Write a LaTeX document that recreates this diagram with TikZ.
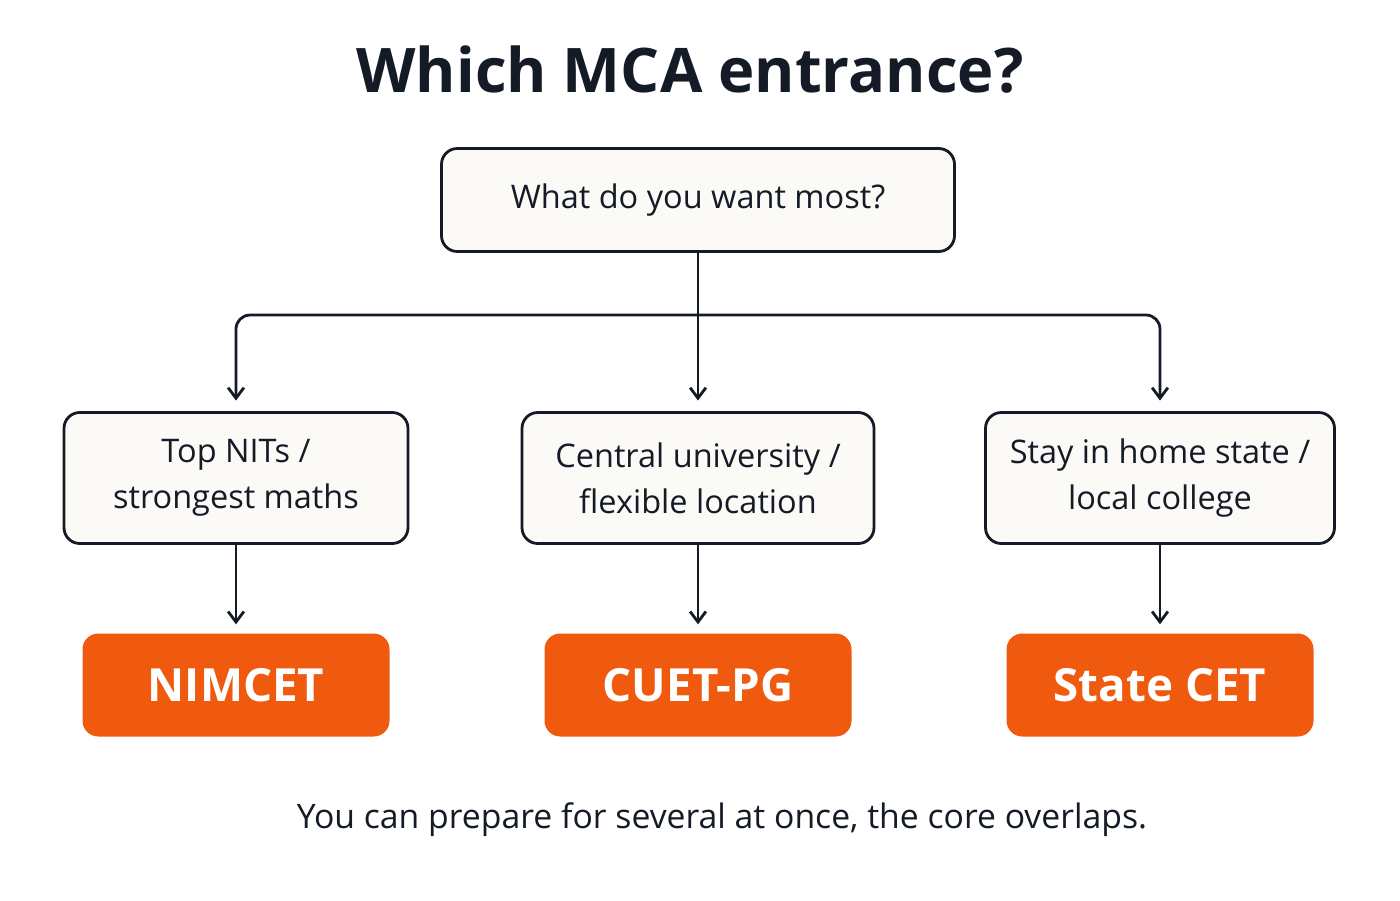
\documentclass[tikz,border=0pt]{standalone}
\usepackage{fontspec}
\setmainfont{Open Sans}
\usetikzlibrary{arrows.meta}
\definecolor{ink}{HTML}{141B26}
\definecolor{org}{HTML}{F05A0F}
\definecolor{cream}{HTML}{FBFAF6}
\begin{document}
\begin{tikzpicture}[x=0.02cm,y=-0.02cm,
  q/.style={draw=ink,line width=1.6pt,rounded corners=9pt,fill=cream,align=center,text=ink,font=\fontsize{18.5}{26}\selectfont},
  res/.style={fill=org,rounded corners=9pt,text=white,font=\bfseries\fontsize{26}{30}\selectfont,minimum width=307*0.02cm,minimum height=103*0.02cm},
  arr/.style={draw=ink,line width=1.6pt,-{Straight Barb[length=6pt,width=9pt]}}]
\useasboundingbox[fill=white] (0,0) rectangle (1400,900);
\node[text=ink,font=\bfseries\fontsize{35}{40}\selectfont] (title) at (690,70) {Which MCA entrance?};
\node[q,minimum width=513*0.02cm,minimum height=103*0.02cm] (top) at (698,200) {What do you want most?};
\node[q,minimum width=344*0.02cm,minimum height=131*0.02cm] (a) at (236,478) {Top NITs /\\strongest maths};
\node[q,minimum width=352*0.02cm,minimum height=131*0.02cm] (b) at (698,478) {Central university /\\flexible location};
\node[q,minimum width=349*0.02cm,minimum height=131*0.02cm] (c) at (1160,478) {Stay in home state /\\local college};
\node[res] (ra) at (236,685) {NIMCET};
\node[res] (rb) at (698,685) {CUET-PG};
\node[res] (rc) at (1160,685) {State CET};
\coordinate (j) at (698,315);
\draw[arr] (top.south) -- ([yshift=6pt]b.north);
\draw[arr,rounded corners=8pt] (j) -| ([yshift=6pt]a.north);
\draw[arr,rounded corners=8pt] (j) -| ([yshift=6pt]c.north);
\draw[arr] (a.south) -- ([yshift=5pt]ra.north);
\draw[arr] (b.south) -- ([yshift=5pt]rb.north);
\draw[arr] (c.south) -- ([yshift=5pt]rc.north);
\node[text=ink,font=\fontsize{19.2}{23}\selectfont] (foot) at (722,820) {You can prepare for several at once, the core overlaps.};
\end{tikzpicture}
\end{document}
